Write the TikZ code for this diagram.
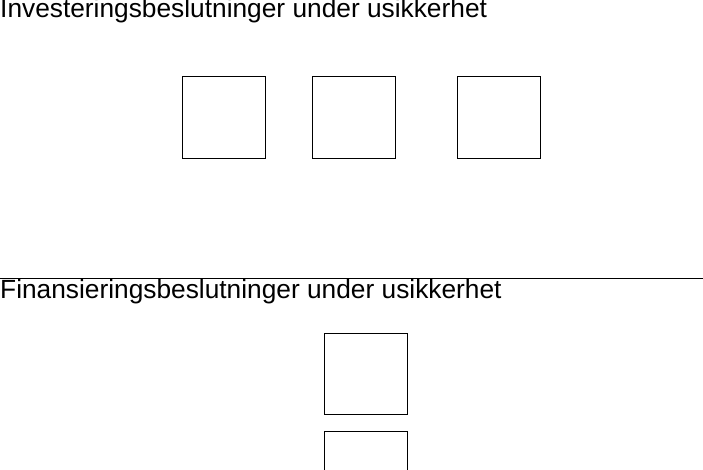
\documentclass[tikz,border=0pt]{standalone}
\usepackage{fontspec}
\setmainfont{Liberation Sans}
\begin{document}
\begin{tikzpicture}[x=1pt,y=-1pt,
  box/.style={draw,line width=1pt,minimum width=83pt,minimum height=82pt,inner sep=0pt,anchor=north west},
  title/.style={anchor=base west,inner sep=0pt,font=\fontsize{26.3}{30}\selectfont}]
\useasboundingbox (0,0) rectangle (703,470);
\begin{scope}
\clip (0,0) rectangle (703,470);
\node[title] (t1) at (0,18) {Investeringsbeslutninger under usikkerhet};
\node[box] (b1) at (181.5,76) {};
\node[box] (b2) at (311.5,76) {};
\node[box] (b3) at (456.5,76) {};
\coordinate (l1) at (0,278);
\coordinate (l2) at (703,278);
\draw[line width=1pt] (l1) -- (l2);
\node[title] (t2) at (0,298) {Finansieringsbeslutninger under usikkerhet};
\node[box,minimum height=81pt] (b4) at (323.5,333) {};
\node[box] (b5) at (323.5,431) {};
\end{scope}
\end{tikzpicture}
\end{document}
